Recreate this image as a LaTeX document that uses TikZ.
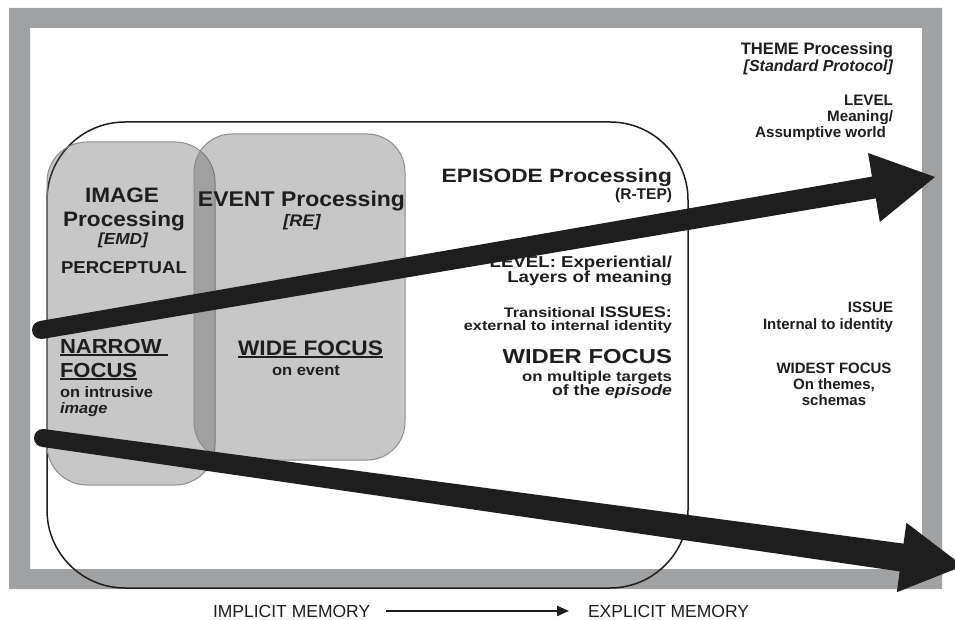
\documentclass[tikz,border=0pt]{standalone}
\usepackage{fontspec}
\setmainfont{Liberation Sans}
\newfontfamily\leftfont[FakeStretch=1.08]{Liberation Sans}
\newfontfamily\epfont[FakeStretch=1.18]{Liberation Sans}
\usetikzlibrary{arrows.meta}
\definecolor{framegray}{RGB}{160,161,163}
\definecolor{boxborder}{RGB}{140,141,143}
\definecolor{ink}{RGB}{30,30,30}
\newcommand{\myfs}[1]{\fontsize{#1}{#1}\selectfont}
\newcommand{\myul}[1]{\setbox0=\hbox{#1}\rlap{\rule[-3pt]{\wd0}{1.8pt}}\box0}
\begin{document}
\begin{tikzpicture}[x=1pt,y=-1pt,
  txt/.style={inner sep=0pt, outer sep=0pt, text=ink},
  graybox/.style={fill=black!70, fill opacity=0.31, draw=boxborder, draw opacity=1, line width=1pt, rounded corners=#1},
  bigarrow/.style={fill=ink, draw=none}
]
\useasboundingbox (0,0) rectangle (955,620);
\fill[white] (0,0) rectangle (955,620);
% outer gray frame
\fill[framegray, even odd rule] (9,8) rectangle (942,589) (30,28) rectangle (922,569);
% episode outline
\draw[ink, line width=1.5pt, rounded corners=78pt] (47,122) rectangle (688,588);
% image and event boxes
\path[graybox=40pt] (47,142) rectangle (215,485);
\path[graybox=38pt] (194,134) rectangle (405,460);

% right column (THEME)
\node[txt, anchor=base east, font=\bfseries\myfs{16.6}] (theme) at (893,55) {THEME Processing};
\node[txt, anchor=base east, font=\bfseries\itshape\myfs{16}] (std) at (893,72) {[Standard Protocol]};
\node[txt, anchor=base east, font=\bfseries\myfs{15.2}] (lvl) at (893,106) {LEVEL};
\node[txt, anchor=base east, font=\bfseries\myfs{15.2}] (mean) at (893,122) {Meaning/};
\node[txt, anchor=base east, font=\bfseries\myfs{15.2}] (assum) at (886,138) {Assumptive world};
\node[txt, anchor=base east, font=\bfseries\myfs{15}] (issue) at (893,312) {ISSUE};
\node[txt, anchor=base east, font=\bfseries\myfs{15}] (intern) at (893,329) {Internal to identity};
\node[txt, anchor=base, font=\bfseries\myfs{15}] (widest) at (834,373) {WIDEST FOCUS};
\node[txt, anchor=base, font=\bfseries\myfs{15}] (onth) at (834,389) {On themes,};
\node[txt, anchor=base, font=\bfseries\myfs{15}] (schem) at (834,405) {schemas};

% episode column
\node[txt, anchor=base east, font=\epfont\bfseries\myfs{19.3}] (epi) at (672,183) {EPISODE Processing};
\node[txt, anchor=base east, font=\bfseries\myfs{15.5}] (rtep) at (672,200) {(R-TEP)};
\node[txt, anchor=base east, font=\epfont\bfseries\myfs{15.8}] (lvlexp) at (672,268) {LEVEL: Experiential/};
\node[txt, anchor=base east, font=\epfont\bfseries\myfs{15.8}] (layers) at (672,282) {Layers of meaning};
\node[txt, anchor=base east, font=\epfont\bfseries\myfs{13.8}] (trans) at (672,317) {Transitional {\myfs{15.3}ISSUES:}};
\node[txt, anchor=base east, font=\epfont\bfseries\myfs{13.8}] (extern) at (672,330) {external to internal identity};
\node[txt, anchor=base east, font=\epfont\bfseries\myfs{20.2}] (wider) at (672,363) {WIDER FOCUS};
\node[txt, anchor=base east, font=\epfont\bfseries\myfs{14.2}] (multi) at (672,381) {on multiple targets};
\node[txt, anchor=base east, font=\epfont\bfseries\myfs{15}] (ofthe) at (672,395) {of the \textit{episode}};

% image column
\node[txt, anchor=base, font=\leftfont\bfseries\myfs{20.9}] (imgt) at (122,203) {IMAGE};
\node[txt, anchor=base, font=\leftfont\bfseries\myfs{20.9}] (imgp) at (124,227) {Processing};
\node[txt, anchor=base, font=\leftfont\bfseries\itshape\myfs{16}] (emd) at (123,244) {[EMD]};
\node[txt, anchor=base west, font=\leftfont\bfseries\myfs{17.2}] (perc) at (61,273) {PERCEPTUAL};
\node[txt, anchor=base west, font=\leftfont\bfseries\myfs{20.4}] (narrow) at (60,353) {\myul{NARROW\ }};
\node[txt, anchor=base west, font=\leftfont\bfseries\myfs{20.4}] (nfocus) at (60,377) {\myul{FOCUS}};
\node[txt, anchor=base west, font=\leftfont\bfseries\myfs{15.2}] (intru) at (60,397) {on intrusive};
\node[txt, anchor=base west, font=\leftfont\bfseries\itshape\myfs{15.2}] (imgw) at (60,413) {image};

% event column
\node[txt, anchor=base, font=\leftfont\bfseries\myfs{21.3}] (evt) at (301.5,207) {EVENT Processing};
\node[txt, anchor=base, font=\leftfont\bfseries\itshape\myfs{16.7}] (re) at (302,227) {[RE]};
\node[txt, anchor=base, font=\leftfont\bfseries\myfs{21}] (wide) at (310.5,355) {\myul{WIDE FOCUS}};
\node[txt, anchor=base, font=\leftfont\bfseries\myfs{15.3}] (onevt) at (306,375) {on event};

% big arrows (tapered shafts with round start)
\fill[bigarrow] (41,330) circle (9);
\fill[bigarrow] (42.5,338.9) -- (39.5,321.1) -- (872.0,176.6) -- (868.0,153.0) -- (935,177) -- (879.8,222.0) -- (875.8,198.4) -- cycle;
\fill[bigarrow] (43,438) circle (9);
\fill[bigarrow] (41.8,446.9) -- (44.2,429.1) -- (903.5,543.6) -- (906.4,522.8) -- (963,566) -- (896.8,592.2) -- (899.7,571.4) -- cycle;

% bottom caption
\node[txt, anchor=base west, font=\myfs{17.5}] (imp) at (213,617) {IMPLICIT MEMORY};
\node[txt, anchor=base west, font=\myfs{17.5}] (exp) at (588,617) {EXPLICIT MEMORY};
\draw[ink, line width=2.2pt, -{Triangle[length=12pt,width=10pt]}, shorten <=16pt, shorten >=19pt] (imp.east) -- (exp.west);
\end{tikzpicture}
\end{document}
